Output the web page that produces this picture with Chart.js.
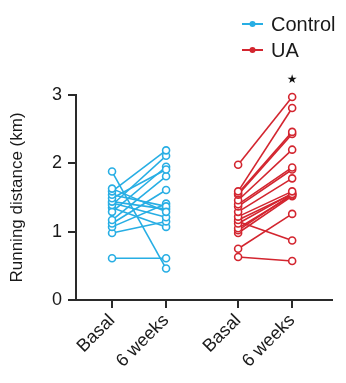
<!DOCTYPE html>
<html>
<head>
<meta charset="utf-8">
<script src="https://cdn.jsdelivr.net/npm/chart.js@4/dist/chart.umd.min.js"></script>
<style>
  html, body { margin: 0; padding: 0; background: #fff; }
  #wrap { width: 346px; height: 383px; position: relative; }
</style>
</head>
<body>
<div id="wrap"><canvas id="myChart" width="346" height="383"></canvas></div>
<script>
const xLabels = ["Basal", "6 weeks", "Basal", "6 weeks"];
const xPos = [1, 2, 3.333, 4.333];
const yTicks = [0, 1, 2, 3];

// each index is one animal, basal -> 6 weeks
const controlBasal = [1.88, 1.63, 1.59, 1.54, 1.49, 1.44, 1.39, 1.42, 1.29, 1.17, 1.12, 1.07, 0.98, 1.35, 0.61];
const control6w = [0.46, 1.29, 2.19, 1.37, 1.91, 1.33, 2.11, 1.21, 1.95, 1.81, 1.61, 1.41, 1.15, 1.07, 0.61];
const uaBasal = [1.98, 1.59, 1.56, 1.54, 1.46, 1.40, 1.37, 1.29, 1.22, 1.17, 1.12, 1.05, 1.02, 0.98, 1.15, 0.75, 0.63];
const ua6w = [2.97, 2.81, 2.46, 2.43, 2.20, 1.94, 1.91, 1.78, 1.59, 1.55, 1.56, 1.53, 1.55, 1.52, 0.87, 1.26, 0.57];

const blue = "#27aee4";
const red = "#d3252f";
const axisColor = "#2a2a2a";
const textColor = "#1a1a1a";
const font = "'Liberation Sans', Arial, sans-serif";

function pairSets(basal, after, x0, x1, color) {
	return basal.map((b, i) => ({
		data: [{ x: x0, y: b }, { x: x1, y: after[i] }],
		borderColor: color,
		pointBorderColor: color,
		pointBackgroundColor: "#fff",
		borderWidth: 1.6,
		pointBorderWidth: 1.6,
		pointRadius: 3.5,
		showLine: true,
		clip: false,
	}));
}

const datasets = [
	...pairSets(controlBasal, control6w, xPos[0], xPos[1], blue),
	...pairSets(uaBasal, ua6w, xPos[2], xPos[3], red),
];

// legend with line+dot marks, and significance star
const extras = {
	id: "extras",
	afterDraw(chart) {
		const ctx = chart.ctx;
		const items = [["Control", blue, 24], ["UA", red, 50]];
		ctx.save();
		items.forEach(([txt, col, y]) => {
			ctx.strokeStyle = col;
			ctx.lineWidth = 2;
			ctx.beginPath();
			ctx.moveTo(242, y);
			ctx.lineTo(263, y);
			ctx.stroke();
			ctx.fillStyle = col;
			ctx.beginPath();
			ctx.arc(252.5, y, 3, 0, Math.PI * 2);
			ctx.fill();
			ctx.fillStyle = textColor;
			ctx.font = "20px " + font;
			ctx.textBaseline = "middle";
			ctx.fillText(txt, 271, y + 1);
		});
		const xs = chart.scales.x.getPixelForValue(xPos[3]);
		ctx.fillStyle = "#111";
		ctx.font = "12px 'DejaVu Sans'";
		ctx.textAlign = "center";
		ctx.textBaseline = "middle";
		ctx.fillText("★", xs, 80);
		ctx.restore();
	},
};

new Chart("myChart", {
	type: "scatter",
	data: { datasets },
	options: {
		responsive: false,
		animation: false,
		layout: { padding: { top: 95, right: 14, left: 0, bottom: 0 } },
		plugins: { legend: { display: false }, tooltip: { enabled: false } },
		scales: {
			x: {
				type: "linear",
				min: 0.333,
				max: 5.07,
				afterBuildTicks(scale) {
					scale.ticks = xPos.map((v) => ({ value: v }));
				},
				afterFit(scale) {
					scale.height = 83;
				},
				ticks: {
					callback: (v, i) => xLabels[i],
					minRotation: 45,
					maxRotation: 45,
					color: textColor,
					font: { family: font, size: 18 },
					padding: 2,
				},
				grid: {
					display: true,
					drawOnChartArea: false,
					drawTicks: true,
					tickLength: 8,
					color: axisColor,
					lineWidth: 2,
				},
				border: { display: true, color: axisColor, width: 2 },
			},
			y: {
				min: 0,
				max: 3,
				afterBuildTicks(scale) {
					scale.ticks = yTicks.map((v) => ({ value: v }));
				},
				afterFit(scale) {
					scale.width = 76;
				},
				ticks: {
					color: textColor,
					font: { family: font, size: 18 },
					padding: 6,
				},
				grid: {
					display: true,
					drawOnChartArea: false,
					drawTicks: true,
					tickLength: 8,
					color: axisColor,
					lineWidth: 2,
				},
				border: { display: true, color: axisColor, width: 2 },
				title: {
					display: true,
					text: "Running distance (km)",
					color: textColor,
					font: { family: font, size: 17 },
					padding: { top: 7, bottom: 0 },
				},
			},
		},
	},
	plugins: [extras],
});
</script>
</body>
</html>
